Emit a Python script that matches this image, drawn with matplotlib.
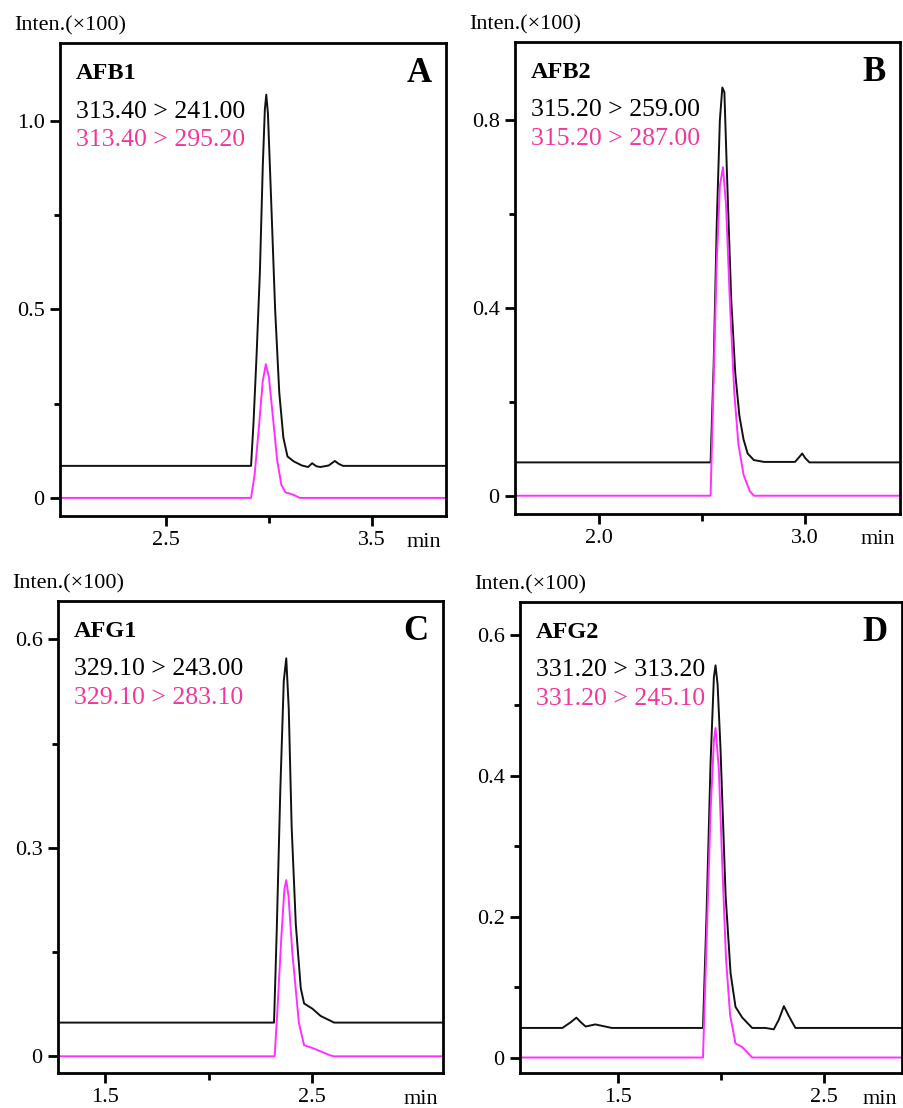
import matplotlib
matplotlib.use("Agg")
import matplotlib.pyplot as plt

plt.rcParams["font.family"] = ["Liberation Serif", "DejaVu Serif"]

W, H = 904, 1108
BLACK_LINE = "#111111"
PINK_LINE = "#ff30ff"
PINK_TEXT = "#f0389c"

# AFB1 (panel A) - time in min, intensity in x100
afb1_t = [1.985, 2.913, 2.925, 2.94, 2.956, 2.97, 2.98, 2.987, 2.995, 3.01, 3.03, 3.05, 3.07, 3.09,
          3.12, 3.16, 3.19, 3.21, 3.23, 3.25, 3.29, 3.32, 3.34, 3.36, 3.86]
afb1_quant = [0.085, 0.085, 0.20, 0.38, 0.60, 0.88, 1.03, 1.07, 1.02, 0.80, 0.50, 0.28, 0.16, 0.11,
              0.097, 0.086, 0.082, 0.092, 0.084, 0.082, 0.086, 0.098, 0.090, 0.085, 0.085]
afb1_qual_t = [1.985, 2.913, 2.93, 2.95, 2.97, 2.985, 3.0, 3.02, 3.04, 3.06, 3.08, 3.12, 3.15, 3.86]
afb1_qual = [0.0, 0.0, 0.06, 0.18, 0.31, 0.355, 0.32, 0.21, 0.10, 0.035, 0.015, 0.008, 0.0, 0.0]

# AFB2 (panel B)
afb2_t = [1.59, 2.54, 2.555, 2.57, 2.585, 2.597, 2.607, 2.62, 2.64, 2.66, 2.68, 2.70, 2.72,
          2.75, 2.80, 2.95, 2.97, 2.985, 3.0, 3.02, 3.46]
afb2_quant = [0.071, 0.071, 0.28, 0.58, 0.80, 0.87, 0.86, 0.68, 0.42, 0.26, 0.17, 0.12, 0.09,
              0.076, 0.072, 0.072, 0.082, 0.090, 0.080, 0.071, 0.071]
afb2_qual_t = [1.59, 2.54, 2.555, 2.57, 2.585, 2.60, 2.615, 2.635, 2.655, 2.675, 2.70, 2.73, 2.75, 3.46]
afb2_qual = [0.0, 0.0, 0.25, 0.50, 0.66, 0.70, 0.62, 0.40, 0.22, 0.11, 0.045, 0.01, 0.0, 0.0]

# AFG1 (panel C)
afg1_t = [1.273, 2.315, 2.328, 2.345, 2.362, 2.374, 2.386, 2.40, 2.42, 2.444, 2.46, 2.50, 2.54,
          2.605, 3.13]
afg1_quant = [0.0485, 0.0485, 0.18, 0.38, 0.54, 0.5725, 0.50, 0.33, 0.19, 0.098, 0.076, 0.0685,
              0.058, 0.0485, 0.0485]
afg1_qual_t = [1.273, 2.318, 2.332, 2.35, 2.365, 2.374, 2.385, 2.403, 2.435, 2.46, 2.508, 2.589,
               2.605, 3.13]
afg1_qual = [0.0, 0.0, 0.07, 0.17, 0.24, 0.2535, 0.23, 0.15, 0.048, 0.016, 0.011, 0.001, 0.0, 0.0]

# AFG2 (panel D)
afg2_t = [1.024, 1.23, 1.27, 1.298, 1.32, 1.343, 1.39, 1.47, 1.913, 1.93, 1.95, 1.966, 1.974,
          1.984, 1.998, 2.023, 2.047, 2.071, 2.103, 2.152, 2.217, 2.257, 2.282, 2.306,
          2.33, 2.362, 2.88]
afg2_quant = [0.042, 0.042, 0.050, 0.0566, 0.050, 0.044, 0.047, 0.042, 0.042, 0.20, 0.42, 0.54,
              0.557, 0.53, 0.44, 0.23, 0.12, 0.072, 0.057, 0.042, 0.042, 0.040, 0.054, 0.073,
              0.059, 0.042, 0.042]
afg2_qual_t = [1.024, 1.913, 1.93, 1.95, 1.966, 1.974, 1.99, 2.006, 2.025, 2.045, 2.071, 2.103,
               2.152, 2.88]
afg2_qual = [0.0, 0.0, 0.16, 0.35, 0.45, 0.468, 0.41, 0.28, 0.14, 0.06, 0.02, 0.015, 0.0, 0.0]

names = ["AFB1", "AFB2", "AFG1", "AFG2"]
letters = ["A", "B", "C", "D"]
quant_labels = ["313.40 > 241.00", "315.20 > 259.00", "329.10 > 243.00", "331.20 > 313.20"]
qual_labels = ["313.40 > 295.20", "315.20 > 287.00", "329.10 > 283.10", "331.20 > 245.10"]
x_major = [[2.5, 3.5], [2.0, 3.0], [1.5, 2.5], [1.5, 2.5]]
x_minor = [[3.0], [2.5], [2.0], [2.0]]
y_major = [[0, 0.5, 1.0], [0, 0.4, 0.8], [0, 0.3, 0.6], [0, 0.2, 0.4, 0.6]]
y_major_labels = [["0", "0.5", "1.0"], ["0", "0.4", "0.8"], ["0", "0.3", "0.6"],
                  ["0", "0.2", "0.4", "0.6"]]
y_minor = [[0.25, 0.75], [0.2, 0.6], [0.15, 0.45], [0.1, 0.3, 0.5]]
xlims = [(1.985, 3.86), (1.59, 3.46), (1.273, 3.13), (1.024, 2.88)]
ylims = [(-0.048, 1.207), (-0.039, 0.967), (-0.024, 0.655), (-0.022, 0.647)]

series = [
    (afb1_t, afb1_quant, afb1_qual_t, afb1_qual),
    (afb2_t, afb2_quant, afb2_qual_t, afb2_qual),
    (afg1_t, afg1_quant, afg1_qual_t, afg1_qual),
    (afg2_t, afg2_quant, afg2_qual_t, afg2_qual),
]

# axes boxes in pixels: left, top, right, bottom
boxes = [(60, 43, 446, 516), (515, 42, 900, 514), (58, 601, 443, 1073), (520, 602, 902, 1073)]

fig = plt.figure(figsize=(W / 100, H / 100), dpi=100)


def fx(x):
    return x / W


def fy(y):
    return 1 - y / H


for i in range(4):
    left, top, right, bottom = boxes[i]
    ax = fig.add_axes([fx(left), fy(bottom), (right - left) / W, (bottom - top) / H])
    t, q, t2, q2 = series[i]
    ax.plot(t, q, color=BLACK_LINE, lw=1.4, solid_joinstyle="round")
    ax.plot(t2, q2, color=PINK_LINE, lw=1.4, solid_joinstyle="round")

    ax.set_xlim(*xlims[i])
    ax.set_ylim(*ylims[i])
    ax.set_xticks(x_major[i])
    ax.set_xticklabels([f"{v:.1f}" for v in x_major[i]])
    ax.set_xticks(x_minor[i], minor=True)
    ax.set_yticks(y_major[i])
    ax.set_yticklabels(y_major_labels[i])
    ax.set_yticks(y_minor[i], minor=True)

    for s in ax.spines.values():
        s.set_linewidth(2.0)
    ax.tick_params(which="major", direction="out", length=7, width=2.0, labelsize=16, pad=4)
    ax.tick_params(which="minor", direction="out", length=4.5, width=2.0)
    ax.tick_params(axis="x", which="minor", length=5)

    # texts inside the box
    ax.text(0.042, 0.935, names[i], transform=ax.transAxes, fontsize=17.5, fontweight="bold",
            ha="left", va="center")
    ax.text(0.042, 0.855, quant_labels[i], transform=ax.transAxes, fontsize=18.5,
            color="black", ha="left", va="center")
    ax.text(0.042, 0.795, qual_labels[i], transform=ax.transAxes, fontsize=18.5,
            color=PINK_TEXT, ha="left", va="center")
    ax.text(0.962, 0.935, letters[i], transform=ax.transAxes, fontsize=25, fontweight="bold",
            ha="right", va="center")

    # outer labels
    fig.text(fx(left - 46), fy(top - 17), "Inten.(\u00d7100)", fontsize=16, ha="left", va="center")
    fig.text(fx(right - 22), fy(bottom + 26), "min", fontsize=16, ha="center", va="center")

fig.savefig("out.png", dpi=100)
